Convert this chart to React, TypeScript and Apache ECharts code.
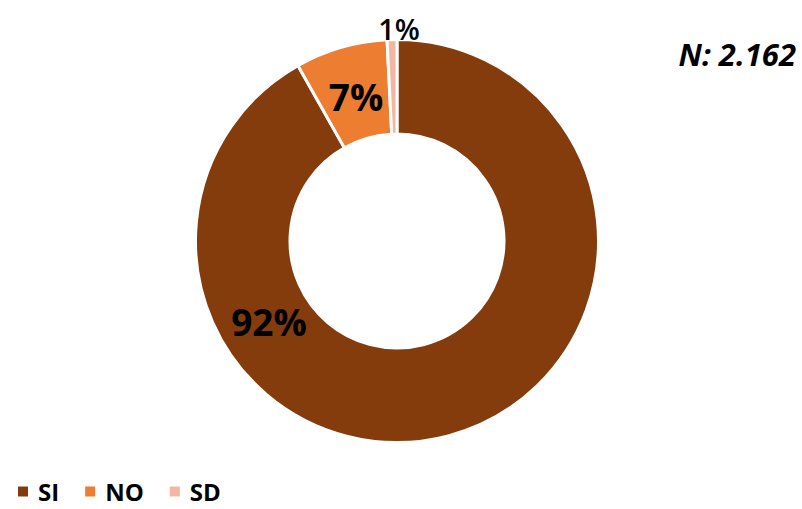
import React, { useEffect, useRef } from "react";
import * as echarts from "echarts";

const categories = ["SI", "NO", "SD"];
const counts = [1985, 160, 17];
const colors = ["#843C0C", "#ED7D31", "#F4B5A2"];
const totalLabel = "N: 2.162";

const FONT = "'Open Sans', 'Noto Sans', sans-serif";

export default function App() {
  const ref = useRef<HTMLDivElement>(null);
  useEffect(() => {
    document.body.style.margin = "0";
    const chart = echarts.init(ref.current!, null, { renderer: "svg" });
    const total = counts.reduce((a, b) => a + b, 0);
    const labelPos: Record<number, [number, number]> = {
      0: [269, 321],
      1: [356, 96],
      2: [399, 28],
    };
    chart.setOption({
      animation: false,
      backgroundColor: "#fff",
      legend: {
        left: 16,
        top: 479,
        padding: 0,
        icon: "rect",
        itemWidth: 12,
        itemHeight: 12,
        itemGap: 24,
        data: categories,
        textStyle: {
          fontFamily: FONT,
          fontWeight: "bold",
          fontSize: 24,
          lineHeight: 25,
          color: "#000",
          padding: [0, 0, 0, 4],
        },
      },
      graphic: [
        {
          type: "text",
          right: 6,
          top: 38,
          style: {
            text: totalLabel,
            fontFamily: FONT,
            fontWeight: "bold",
            fontStyle: "italic",
            fontSize: 31,
            fill: "#000",
          },
        },
      ],
      series: [
        {
          type: "pie",
          center: [397, 241],
          radius: [107, 201.5],
          startAngle: 90,
          clockwise: true,
          avoidLabelOverlap: false,
          itemStyle: { borderColor: "#fff", borderWidth: 3 },
          label: {
            show: true,
            position: "inside",
            fontFamily: FONT,
            fontWeight: "bold",
            fontSize: 37,
            color: "#000",
            formatter: (p: any) => Math.round((p.value / total) * 100) + "%",
          },
          labelLine: { show: false },
          labelLayout: (p: any) => {
            const pos = labelPos[p.dataIndex];
            return { x: pos[0], y: pos[1], align: "center", verticalAlign: "middle" };
          },
          emphasis: { disabled: true },
          data: categories.map((c, i) => ({
            name: c,
            value: counts[i],
            itemStyle: { color: colors[i] },
            label: i === 2 ? { fontSize: 29, fontWeight: 600 } : undefined,
          })),
        },
      ],
    });
    return () => chart.dispose();
  }, []);
  return <div ref={ref} style={{ width: 802, height: 509, position: "absolute", left: 0, top: 0 }} />;
}
